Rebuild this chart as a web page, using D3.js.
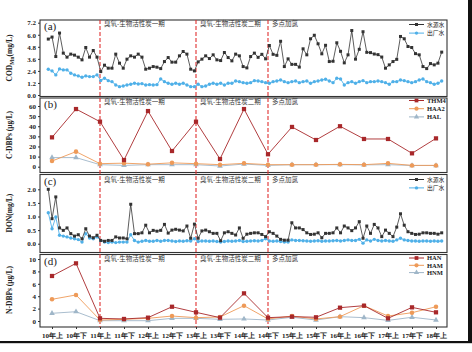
<!DOCTYPE html>
<html><head><meta charset="utf-8">
<script src="https://cdn.jsdelivr.net/npm/d3@7/dist/d3.min.js"></script>
<style>body{margin:0;background:#fff} svg{display:block}</style>
</head><body><svg id="c" width="472" height="352"></svg>
<script>
// ---------- data ----------
const categories = ["10年上","10年下","11年上","11年下","12年上","12年下","13年上","13年下","14年上","14年下","15年上","15年下","16年上","16年下","17年上","17年下","18年上"];

const codRaw = [5.57,5.77,3.83,6.17,4.17,3.77,4.07,3.97,3.77,3.5,4.73,3.77,4.43,3.77,2.33,2.97,2.67,2.67,4.07,3.17,2.67,3.57,3.9,3.77,4.07,3.77,2.57,2.67,2.83,2.77,2.63,3.33,3.73,3.27,3.27,3.9,4.33,4.07,2.57,2.4,3.3,3.57,3.9,3.63,4.0,3.5,3.43,4.23,3.73,3.4,4.07,3.9,2.83,2.7,3.83,4.17,3.75,4.05,3.6,4.93,4.05,3.95,5.35,2.83,3.6,3.05,3.05,2.78,4.6,4.0,5.6,5.95,5.1,4.1,4.95,3.33,3.36,5.2,4.35,3.2,4.0,6.42,3.57,4.55,6.3,4.25,4.22,4.08,4.02,3.78,2.67,3.0,3.33,3.55,5.83,5.6,4.83,4.73,4.12,4.0,2.83,2.63,3.13,3.0,3.17,4.27];
const codOut = [2.57,2.4,2.0,2.6,2.5,2.5,2.17,2.0,1.9,1.77,1.9,1.83,1.83,2.0,1.45,1.67,1.43,1.33,1.0,0.83,0.9,1.0,1.07,1.17,1.1,1.13,1.0,1.03,1.0,1.03,1.6,1.33,
 1.17,1.07,1.17,1.07,1.17,1.0,0.83,0.83,1.07,0.83,0.9,1.07,1.17,1.07,1.17,1.0,1.17,1.17,1.4,1.33,1.23,1.17,1.23,1.43,1.4,1.33,1.23,1.17,1.33,1.4,1.5,1.33,1.23,1.33,1.4,1.23,1.33,1.4,
 1.17,1.33,1.4,1.5,1.57,1.4,1.23,1.67,1.6,1.0,1.23,1.33,1.17,1.33,1.43,1.23,1.33,1.33,1.4,1.33,1.23,1.07,1.33,1.33,1.5,1.43,1.33,1.23,1.33,1.5,1.6,1.33,1.23,1.07,1.17,1.4];

const thm4 = [29,57,44.5,6.6,55,15.5,44.5,7.6,57,12.3,39.3,26.4,40,27.4,27.4,13.2,28];
const haa2 = [5.6,14.9,3,3.5,2.5,3.8,3,2,3.3,2,2,2,2.3,2,3.3,1.3,1.3];
const hal  = [9,9,2,1.3,2,2,2,0.7,2.6,1.3,2,2,2,1.8,2,1.2,1.2];

const donRaw = [2.0,0.92,1.72,0.58,0.49,0.58,0.37,0.28,0.33,0.18,0.55,0.28,0.22,0.31,0.12,0.09,0.12,0.12,0.25,0.21,0.21,0.18,1.45,0.37,0.37,0.4,0.68,0.4,0.49,0.46,0.49,0.71,0.39,
 0.5,0.53,0.5,0.47,0.65,0.2,0.72,0.2,0.47,0.5,0.44,0.38,0.38,0.11,0.4,
 0.44,0.38,0.32,0.58,0.20,0.35,0.38,0.40,0.40,0.34,0.26,0.44,0.38,0.28,0.16,0.13,0.13,0.77,0.58,0.58,0.52,0.40,0.34,0.35,0.40,0.22,0.38,0.38,0.40,0.58,0.40,0.65,0.58,0.48,0.58,0.81,0.20,0.65,0.38,0.71,0.58,0.26,0.50,0.38,0.26,0.61,1.1,0.68,0.44,0.38,0.34,0.35,0.40,0.40,0.38,0.38,0.35,0.40];
const donOut = [1.14,0.55,0.98,0.31,0.28,0.25,0.21,0.18,0.15,0.06,0.37,0.21,0.18,0.25,0.12,0.06,0.04,0.06,0.04,0.06,0.06,0.06,0.33,0.12,0.06,0.09,0.12,0.09,0.09,0.12,0.09,0.12,0.12,
 0.10,0.08,0.10,0.09,0.11,0.10,0.18,0.08,0.10,0.10,0.09,0.10,0.08,0.06,0.08,
 0.10,0.09,0.10,0.12,0.08,0.09,0.10,0.11,0.10,0.12,0.18,0.10,0.09,0.10,0.08,0.06,0.06,0.14,0.12,0.12,0.11,0.10,0.09,0.10,0.11,0.09,0.10,0.10,0.11,0.12,0.10,0.12,0.14,0.12,0.12,0.16,0.02,0.14,0.10,0.16,0.12,0.10,0.12,0.10,0.09,0.14,0.20,0.14,0.12,0.10,0.10,0.09,0.10,0.10,0.09,0.10,0.09,0.10];

const han = [7.26,9.3,0.43,0.33,0.54,2.3,1.4,0.54,4.46,0.54,0.7,0.6,2.15,2.47,0.43,2.2,1.4];
const ham = [3.5,4.2,0.16,0.27,0.43,0.8,0.54,0.65,2.47,0.33,0.8,0.33,0.7,2.47,0.8,1.34,2.3];
const hnm = [1.24,1.5,0.05,0.05,0.05,0.43,0.43,0.27,0.33,0.16,0.6,0.16,0.7,0.54,0.1,0.6,0.16];

const phaseAt = ["11年上","13年上","14年下"];
const phaseLabels = ["臭氧-生物活性炭一期","臭氧-生物活性炭二期","多点加氯"];

const codTicks = [0,1.2,2.4,3.6,4.8,6.0,7.2];
const cTicks = [0,10,20,30,40,50,60];
const donTicks = [0,0.5,1.0,1.5,2.0];
const nTicks = [0,2,4,6,8,10];

// ---------- layout ----------
const svg = d3.select("#c");
const L = 40, R = 447;
const x = d3.scalePoint().domain(categories).range([52, 436]);
const xi = d3.scaleLinear().domain([0, codRaw.length - 1]).range([48.3, 441.7]);

const serif = "'Liberation Serif','Times New Roman',serif";
const cjk = "'Noto Sans CJK SC','Noto Sans',sans-serif";

const C = {black:"#333333", blue:"#4fb0e8", dred:"#a8282a", orange:"#ee9a58", gray:"#9fb6c8"};

const panels = [
  {key:"a", top:20, bottom:96.5, y:d3.scaleLinear().domain([0,7.2]).range([95,22.7]), ticks:codTicks, fmt:d3.format(".1f"), label:"(a)"},
  {key:"b", top:98, bottom:172.5, y:d3.scaleLinear().domain([0,60]).range([166.7,106]), ticks:cTicks, fmt:d3.format("d"), label:"(b)"},
  {key:"c", top:174.5, bottom:252.5, y:d3.scaleLinear().domain([0,2]).range([243.7,189.3]), ticks:donTicks, fmt:d3.format(".1f"), label:"(c)"},
  {key:"d", top:254.5, bottom:327, y:d3.scaleLinear().domain([0,10]).range([321,259]), ticks:nTicks, fmt:d3.format("d"), label:"(d)"}
];

// outer border artifacts
svg.append("rect").attr("x",468).attr("y",0).attr("width",4).attr("height",343).attr("fill","#111");
svg.append("rect").attr("x",0).attr("y",341).attr("width",472).attr("height",2.2).attr("fill","#111");

panels.forEach(p => {
  svg.append("rect").attr("x",L).attr("y",p.top).attr("width",R-L).attr("height",p.bottom-p.top)
    .attr("fill","#fff").attr("stroke","#333").attr("stroke-width",1.1);
  const ax = svg.append("g").attr("transform",`translate(${L},0)`)
    .call(d3.axisLeft(p.y).tickValues(p.ticks).tickFormat(p.fmt).tickSize(2).tickPadding(2));
  ax.select(".domain").remove();
  ax.selectAll("line").attr("stroke","#333");
  ax.selectAll("text").attr("font-family",serif).attr("font-weight","bold").attr("font-size",7).attr("fill","#222");
  svg.append("text").attr("x",44).attr("y",p.top+10).attr("font-family",serif).attr("font-size",11).attr("fill","#222").text(p.label);
});

// y-axis titles
function ytitle(cy, build){
  const t = svg.append("text").attr("transform",`translate(12,${cy}) rotate(-90)`).attr("text-anchor","middle")
    .attr("font-family",serif).attr("font-weight","bold").attr("font-size",7.5).attr("fill","#222");
  build(t);
}
ytitle(58, t => { t.append("tspan").text("COD"); t.append("tspan").attr("font-size",5.5).attr("dy",2).text("Mn");
  t.append("tspan").attr("dy",-2).text("(mg/L)"); });
ytitle(135, t => t.text("C-DBPs (μg/L)"));
ytitle(213, t => t.text("DON(mg/L)"));
ytitle(290, t => t.text("N-DBPs (μg/L)"));

// bottom axis
const bx = svg.append("g").attr("transform",`translate(0,327)`).call(d3.axisBottom(x).tickSize(2).tickPadding(4));
bx.select(".domain").remove();
bx.selectAll("line").attr("stroke","#333");
bx.selectAll("text").attr("font-family",serif).attr("font-weight","bold").attr("font-size",7).attr("fill","#222");

// phase lines
phaseAt.forEach((c,i) => {
  svg.append("line").attr("x1",x(c)).attr("x2",x(c)).attr("y1",20).attr("y2",327)
    .attr("stroke","#e03030").attr("stroke-width",1.1).attr("stroke-dasharray","4,2");
  [25.5,103.5,182,261].forEach(yy => {
    svg.append("text").attr("x",x(c)+4).attr("y",yy).attr("font-family",cjk).attr("font-size",6.5).attr("fill","#333").text(phaseLabels[i]);
  });
});

// series drawing helpers
function series(data, xf, y, color, sym, size, lw){
  const g = svg.append("g");
  g.append("path").datum(data).attr("fill","none").attr("stroke",color).attr("stroke-width",lw)
    .attr("d", d3.line().x((d,i)=>xf(i)).y(d=>y(d)));
  g.selectAll("path.m").data(data).join("path").attr("class","m")
    .attr("transform",(d,i)=>`translate(${xf(i)},${y(d)})`)
    .attr("d", d3.symbol(sym, size)).attr("fill",color);
}
const xc = i => x(categories[i]);
const pa = panels[0], pb = panels[1], pc = panels[2], pd = panels[3];

series(codOut, xi, pa.y, C.blue, d3.symbolCircle, 9, 0.9);
series(codRaw, xi, pa.y, C.black, d3.symbolSquare, 9, 0.8);

series(hal, xc, pb.y, C.gray, d3.symbolTriangle, 14, 0.9);
series(haa2, xc, pb.y, C.orange, d3.symbolCircle, 16, 0.9);
series(thm4, xc, pb.y, C.dred, d3.symbolSquare, 18, 0.9);

series(donOut, xi, pc.y, C.blue, d3.symbolCircle, 9, 0.9);
series(donRaw, xi, pc.y, C.black, d3.symbolSquare, 9, 0.8);

series(hnm, xc, pd.y, C.gray, d3.symbolTriangle, 14, 0.9);
series(ham, xc, pd.y, C.orange, d3.symbolCircle, 16, 0.9);
series(han, xc, pd.y, C.dred, d3.symbolSquare, 18, 0.9);

// legends
function legend(items, y0, dy, font, fsize){
  items.forEach((it,k) => {
    const yy = y0 + k*dy;
    svg.append("line").attr("x1",409).attr("x2",424).attr("y1",yy).attr("y2",yy).attr("stroke",it.c).attr("stroke-width",1);
    svg.append("path").attr("transform",`translate(416.5,${yy})`).attr("d",d3.symbol(it.s, it.z)).attr("fill",it.c);
    svg.append("text").attr("x",427).attr("y",yy+2.2).attr("font-family",font).attr("font-weight",font===serif?"bold":"normal")
      .attr("font-size",fsize).attr("fill","#222").text(it.t);
  });
}
legend([{t:"水源水",c:C.black,s:d3.symbolSquare,z:9},{t:"出厂水",c:C.blue,s:d3.symbolCircle,z:9}], 24.5, 8.6, cjk, 5.8);
legend([{t:"THM4",c:C.dred,s:d3.symbolSquare,z:14},{t:"HAA2",c:C.orange,s:d3.symbolCircle,z:14},{t:"HAL",c:C.gray,s:d3.symbolTriangle,z:12}], 100.5, 8.2, serif, 6.5);
legend([{t:"水源水",c:C.black,s:d3.symbolSquare,z:9},{t:"出厂水",c:C.blue,s:d3.symbolCircle,z:9}], 179.5, 8.4, cjk, 5.8);
legend([{t:"HAN",c:C.dred,s:d3.symbolSquare,z:14},{t:"HAM",c:C.orange,s:d3.symbolCircle,z:14},{t:"HNM",c:C.gray,s:d3.symbolTriangle,z:12}], 258, 7.3, serif, 6.5);
</script></body></html>
